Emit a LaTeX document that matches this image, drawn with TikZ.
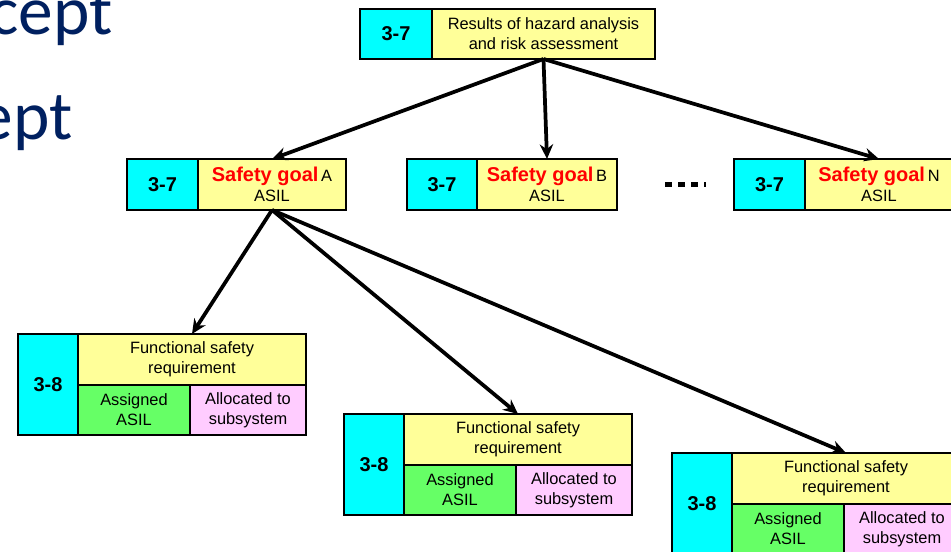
\documentclass[tikz,border=0pt]{standalone}
\usepackage{fontspec}
\setmainfont{Liberation Sans}
\newfontfamily\slidefont{Carlito}
\usetikzlibrary{arrows.meta}
\definecolor{tagcyan}{RGB}{0,255,255}
\definecolor{reqyellow}{RGB}{255,255,153}
\definecolor{asilgreen}{RGB}{102,255,102}
\definecolor{allocpink}{RGB}{255,204,255}
\definecolor{slidenavy}{RGB}{0,32,96}
\newcommand{\goaltext}[1]{{\fontsize{15}{15}\selectfont\bfseries\color{red}Safety goal}\,#1\\ASIL}

\begin{document}
\begin{tikzpicture}[x=0.75pt,y=-0.75pt,
    cell/.style={draw,line width=1.4pt,inner sep=0pt,outer sep=0pt,anchor=north west,
      align=center,font=\fontsize{12.3}{15}\selectfont},
    tag/.style={cell,fill=tagcyan,font=\fontsize{15}{18}\selectfont\bfseries},
    link/.style={line width=2.8pt,-{Stealth[length=11pt,width=10pt]}},
    slide/.style={text=slidenavy,font=\slidefont\fontsize{52}{60}\selectfont,inner sep=0pt}]
\useasboundingbox (0,0) rectangle (951,552);
\clip (0,0) rectangle (951,552);
\fill[white] (0,0) rectangle (951,552);

% cut-off slide title
\node[slide,anchor=base east] (titleA) at (113,35) {cept};
\node[slide,anchor=base east] (titleB) at (73,140) {ept};

% hazard analysis
\node[tag,minimum width=54pt,minimum height=37.5pt] (hratag) at (360,9) {3-7};
\node[cell,fill=reqyellow,minimum width=167.25pt,minimum height=37.5pt] (hra) at (hratag.north east)
  {Results of hazard analysis\\and risk assessment};

% safety goals
\node[tag,minimum width=53.25pt,minimum height=38.25pt] (tagA) at (127,159) {3-7};
\node[cell,fill=reqyellow,minimum width=111pt,minimum height=38.25pt] (goalA) at (tagA.north east) {\goaltext{A}};
\node[tag,minimum width=52.5pt,minimum height=38.25pt] (tagB) at (407,159) {3-7};
\node[cell,fill=reqyellow,minimum width=105pt,minimum height=38.25pt] (goalB) at (tagB.north east) {\goaltext{B}};
\node[tag,minimum width=53.25pt,minimum height=38.25pt] (tagN) at (734,159) {3-7};
\node[cell,fill=reqyellow,minimum width=111pt,minimum height=38.25pt] (goalN) at (tagN.north east) {\goaltext{N}};

\coordinate (dotsL) at (665,185);
\coordinate (dotsR) at (706,185);
\draw[line width=3.75pt,dash pattern=on 5.5pt off 4.25pt] (dotsL) -- (dotsR);

% functional safety requirements
\foreach \n/\x/\y in {1/18/334, 2/344/414, 3/672/453} {
  \node[tag,minimum width=45pt,minimum height=75.75pt] (fsrtag\n) at (\x,\y) {3-8};
  \node[cell,fill=reqyellow,minimum width=171pt,minimum height=38.25pt] (fsr\n) at (fsrtag\n.north east)
    {Functional safety\\requirement};
  \node[cell,fill=asilgreen,minimum width=84pt,minimum height=37.5pt] (asil\n) at (fsr\n.south west)
    {Assigned\\ASIL};
  \node[cell,fill=allocpink,minimum width=87pt,minimum height=37.5pt] (alloc\n) at (asil\n.north east)
    {Allocated to\\subsystem};
}

\draw[link] (hra.south) -- (goalA.north);
\draw[link] (hra.south) -- (goalB.north);
\draw[link] (hra.south) -- (goalN.north);
\draw[link] (goalA.south) -- (fsr1.north);
\draw[link] (goalA.south) -- (fsr2.north);
\draw[link] (goalA.south) -- (fsr3.north);
\end{tikzpicture}
\end{document}
